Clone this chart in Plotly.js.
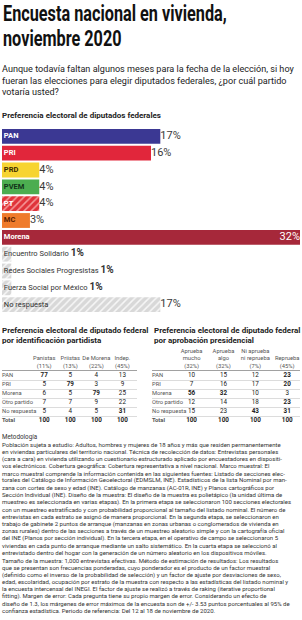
<!DOCTYPE html>
<html><head><meta charset="utf-8">
<script src="https://cdn.plot.ly/plotly-3.0.1.min.js"></script>
<style>html,body{margin:0;padding:0;background:#fff}#chart{width:302px;height:620px}</style>
</head><body><div id="chart"></div>
<script>
// ---------- DATA ----------
const parties = ["PAN","PRI","PRD","PVEM","PT","MC","Morena","Encuentro Solidario","Redes Sociales Progresistas","Fuerza Social por México","No respuesta"];
const shares = [17,16,4,4,4,3,32,1,1,1,17];

const tableRows = ["PAN","PRI","Morena","Otro partido","No respuesta","Total"];

const leftCols = ["Panistas<br>(11%)","Priistas<br>(13%)","De Morena<br>(22%)","Indep.<br>(45%)"];
const leftPanistas = [77,5,6,7,5,100];
const leftPriistas = [5,79,5,7,4,100];
const leftMorena   = [4,3,79,9,5,100];
const leftIndep    = [13,9,25,22,31,100];

const rightCols = ["Aprueba<br>mucho<br>(32%)","Aprueba<br>algo<br>(32%)","Ni aprueba<br>ni reprueba<br>(7%)","Reprueba<br>(45%)"];
const rightMucho = [10,7,56,12,15,100];
const rightAlgo  = [15,16,32,14,23,100];
const rightNi    = [12,17,10,18,43,100];
const rightRepr  = [23,20,3,23,31,100];

// ---------- STYLE ----------
const barColors = ["#3b3893","#e1263b","#f7d431","#4cad50","#e0333a","#ef7b2b","#a6283a","#d8d8d8","#d8d8d8","#d8d8d8","#d8d8d8"];
const barStyle = ["solid","solid","solid","solid","hatchRed","solid","solid","hatchGrey","hatchGrey","hatchGrey","hatchGrey"];
const hatch = {
  solid: null,
  hatchRed: {shape: '/', bgcolor: '#e0333a', fgcolor: '#f59a9a', fgopacity: 1, size: 5, solidity: 0.3, fillmode: 'overlay'},
  hatchGrey: {shape: '/', bgcolor: '#d8d8d8', fgcolor: '#f7f7f7', fgopacity: 1, size: 5, solidity: 0.3, fillmode: 'overlay'}
};
const nameColors = ["#fff","#fff","#3a2a00","#12331a","#fff","#5a1e00","#fff","#333","#333","#333","#333"];
const valueMode = ["out","out","out","out","out","out","in","after","after","after","out"];
const leftBold = [[1,0,0,0,0,1],[0,1,0,0,0,1],[0,0,1,0,0,1],[0,0,0,0,1,1]];
const rightBold = [[0,0,1,0,0,1],[0,0,1,0,0,1],[0,0,0,0,1,1],[1,1,0,1,1,1]];

const FONT = "Roboto, 'Open Sans', sans-serif";
const W = 302, H = 620;
const py = p => 1 - p / H;
const px = p => p / W;

// ---------- BAR CHART ----------
const traces = [];
Object.keys(hatch).forEach(style => {
  const idx = parties.map((p, i) => i).filter(i => barStyle[i] === style);
  // patterned groups share one colour: a scalar colour keeps the pattern's own fg/bg colours
  const marker = {color: hatch[style] ? barColors[idx[0]] : idx.map(i => barColors[i]), line: {width: 0}};
  if (hatch[style]) marker.pattern = hatch[style];
  traces.push({
    type: 'bar', orientation: 'h', x: idx.map(i => shares[i]), y: idx.map(i => parties[i]),
    xaxis: 'x', yaxis: 'y', marker: marker, hoverinfo: 'skip', showlegend: false
  });
});
traces.push({
  type: 'scatter', mode: 'text', xaxis: 'x', yaxis: 'y', cliponaxis: false,
  x: parties.map(() => 0.2), y: parties,
  text: parties.map((p, i) => valueMode[i] === 'after'
    ? p + ' <span style="font-size:10px;font-weight:bold">' + shares[i] + '%</span>' : p),
  textposition: 'middle right',
  textfont: {family: FONT, size: 7.5, color: nameColors,
    weight: barStyle.map(s => s === 'hatchGrey' ? 'normal' : 'bold')},
  hoverinfo: 'skip', showlegend: false
});
const outIdx = shares.map((s, i) => i).filter(i => valueMode[i] === 'out');
traces.push({
  type: 'scatter', mode: 'text', xaxis: 'x', yaxis: 'y', cliponaxis: false,
  x: outIdx.map(i => shares[i]), y: outIdx.map(i => parties[i]),
  text: outIdx.map(i => shares[i] + '%'), textposition: 'middle right',
  textfont: {family: FONT, size: 11, color: '#3a3a3a'}, hoverinfo: 'skip', showlegend: false
});
const inIdx = shares.map((s, i) => i).filter(i => valueMode[i] === 'in');
traces.push({
  type: 'scatter', mode: 'text', xaxis: 'x', yaxis: 'y', cliponaxis: false,
  x: inIdx.map(i => shares[i]), y: inIdx.map(i => parties[i]),
  text: inIdx.map(i => shares[i] + '%'), textposition: 'middle left',
  textfont: {family: FONT, size: 11, color: '#fff'}, hoverinfo: 'skip', showlegend: false
});

// ---------- TABLES ----------
function addTable(xa, ya, x0, colData, bold) {
  traces.push({
    type: 'scatter', mode: 'text', xaxis: xa, yaxis: ya, cliponaxis: false,
    x: tableRows.map(() => x0), y: tableRows.map((r, i) => i),
    text: tableRows.map((r, i) => i === tableRows.length - 1 ? '<b>' + r + '</b>' : r),
    textposition: 'middle right',
    textfont: {family: FONT, size: 5.8, color: '#555'}, hoverinfo: 'skip', showlegend: false
  });
  const xs = [], ys = [], ts = [];
  colData.forEach((col, c) => col.forEach((v, r) => {
    xs.push(c + 1); ys.push(r); ts.push(bold[c][r] ? '<b>' + v + '</b>' : String(v));
  }));
  traces.push({
    type: 'scatter', mode: 'text', xaxis: xa, yaxis: ya, cliponaxis: false,
    x: xs, y: ys, text: ts, textposition: 'middle center',
    textfont: {family: FONT, size: 6.3, color: '#222'}, hoverinfo: 'skip', showlegend: false
  });
}
const leftRange = [-0.62, 4.56], rightRange = [-0.24, 4.4];
addTable('x2', 'y2', leftRange[0], [leftPanistas, leftPriistas, leftMorena, leftIndep], leftBold);
addTable('x3', 'y3', rightRange[0], [rightMucho, rightAlgo, rightNi, rightRepr], rightBold);

function tableX(domain, range, cols, anchor) {
  return {domain: domain, range: range, anchor: anchor, side: 'top', tickvals: [1, 2, 3, 4], ticktext: cols,
    tickangle: 0, tickfont: {family: FONT, size: 5.8, color: '#555'}, ticks: '', showline: true,
    linecolor: '#8a8a8a', linewidth: 0.8, showgrid: false, zeroline: false, fixedrange: true};
}
function tableY(anchor) {
  return {domain: [py(425), py(371)], range: [5.5, -0.5], anchor: anchor,
    tickvals: [0.5, 1.5, 2.5, 3.5, 4.5], showticklabels: false, ticks: '',
    showgrid: true, gridcolor: '#c4c4c4', gridwidth: 0.6, zeroline: false, showline: false, fixedrange: true};
}

// ---------- TEXT ----------
const ann = [];
function lines(arr, x, y0, step, font) {
  arr.forEach((t, i) => ann.push({
    text: t, xref: 'paper', yref: 'paper', x: px(x), y: py(y0 + i * step),
    xanchor: 'left', yanchor: 'middle', showarrow: false, align: 'left', font: font
  }));
}
lines(["Encuesta nacional en vivienda,", "noviembre 2020"], 1, 13.5, 25,
  {family: FONT, size: 22, color: '#111', weight: 'bold'});
lines(["Aunque todavía faltan algunos meses para la fecha de la elección, si hoy",
  "fueran las elecciones para elegir diputados federales, ¿por cuál partido",
  "votaría usted?"], 0, 69.5, 11, {family: FONT, size: 9.1, color: '#222'});
lines(["Preferencia electoral de diputados federales"], 0, 115, 10,
  {family: FONT, size: 8, color: '#222', weight: 'bold'});
lines(["Preferencia electoral de diputado federal", "por identificación partidista"], 0, 330, 10.5,
  {family: FONT, size: 8, color: '#222', weight: 'bold'});
lines(["Preferencia electoral de diputado federal", "por aprobación presidencial"], 152, 330, 10.5,
  {family: FONT, size: 8, color: '#222', weight: 'bold'});
lines(["Metodología"], 0, 437, 7, {family: FONT, size: 6.3, color: '#333'});
lines([
"Población sujeta a estudio: Adultos, hombres y mujeres de 18 años y más que residen permanentemente",
"en viviendas particulares del territorio nacional. Técnica de recolección de datos: Entrevistas personales",
"(cara a cara) en vivienda utilizando un cuestionario estructurado aplicado por encuestadores en dispositi-",
"vos electrónicos. Cobertura geográfica: Cobertura representativa a nivel nacional. Marco muestral: El",
"marco muestral comprende la información contenida en las siguientes fuentes: Listado de secciones elec-",
"torales del Catálogo de Información Geoelectoral (EDMSLM, INE). Estadísticos de la lista Nominal por man-",
"zana con cortes de sexo y edad (INE). Catálogo de manzanas (AC-01R, INE) y Planos cartográficos por",
"Sección Individual (INE). Diseño de la muestra: El diseño de la muestra es polietápico (la unidad última de",
"muestreo es seleccionada en varias etapas). En la primera etapa se seleccionaron 100 secciones electorales",
"con un muestreo estratificado y con probabilidad proporcional al tamaño del listado nominal. El número de",
"entrevistas en cada estrato se asignó de manera proporcional. En la segunda etapa, se seleccionaron en",
"trabajo de gabinete 2 puntos de arranque (manzanas en zonas urbanas o conglomerados de vivienda en",
"zonas rurales) dentro de las secciones a través de un muestreo aleatorio simple y con la cartografía oficial",
"del INE (Planos por sección individual). En la tercera etapa, en el operativo de campo se seleccionaron 5",
"viviendas en cada punto de arranque mediante un salto sistemático. En la cuarta etapa se seleccionó al",
"entrevistado dentro del hogar con la generación de un número aleatorio en los dispositivos móviles.",
"Tamaño de la muestra: 1,000 entrevistas efectivas. Método de estimación de resultados: Los resultados",
"que se presentan son frecuencias ponderadas, cuyo ponderador es el producto de un factor muestral",
"(definido como el inverso de la probabilidad de selección) y un factor de ajuste por desviaciones de sexo,",
"edad, escolaridad, ocupación por estrato de la muestra con respecto a las estadísticas del listado nominal y",
"la encuesta intercensal del INEGI. El factor de ajuste se realizó a través de raking (iterative proportional",
"fitting). Margen de error: Cada pregunta tiene su propio margen de error. Considerando un efecto de",
"diseño de 1.3, los márgenes de error máximos de la encuesta son de +/- 3.53 puntos porcentuales al 95% de",
"confianza estadística. Periodo de referencia: Del 12 al 18 de noviembre de 2020."
], 0, 444, 7.26, {family: FONT, size: 6, color: '#333'});

const layout = {
  width: W, height: H, margin: {l: 0, r: 0, t: 0, b: 0},
  paper_bgcolor: '#fff', plot_bgcolor: 'rgba(0,0,0,0)', showlegend: false,
  barmode: 'overlay', bargap: 0.12,
  xaxis: {domain: [px(2), px(300)], range: [0, 32], visible: false, fixedrange: true},
  yaxis: {domain: [py(314), py(127)], type: 'category', categoryorder: 'array', categoryarray: parties,
    autorange: 'reversed', visible: false, fixedrange: true},
  xaxis2: tableX([px(2), px(137)], leftRange, leftCols, 'y2'),
  yaxis2: tableY('x2'),
  xaxis3: tableX([px(152), px(300)], rightRange, rightCols, 'y3'),
  yaxis3: tableY('x3'),
  annotations: ann
};
Plotly.newPlot('chart', traces, layout, {displayModeBar: false, staticPlot: true}).then(gd => {
  // condense the headline horizontally to match the narrow display face
  const t0 = gd.querySelector('.annotation[data-index="0"] .annotation-text');
  const t1 = gd.querySelector('.annotation[data-index="1"] .annotation-text');
  if (t0 && t1) {
    const s = 224 / t0.getBBox().width;
    [t0, t1].forEach(t => {
      t.style.transformBox = 'fill-box';
      t.style.transformOrigin = 'left center';
      t.style.transform = 'scaleX(' + s + ')';
    });
  }
});
</script>
</body></html>
